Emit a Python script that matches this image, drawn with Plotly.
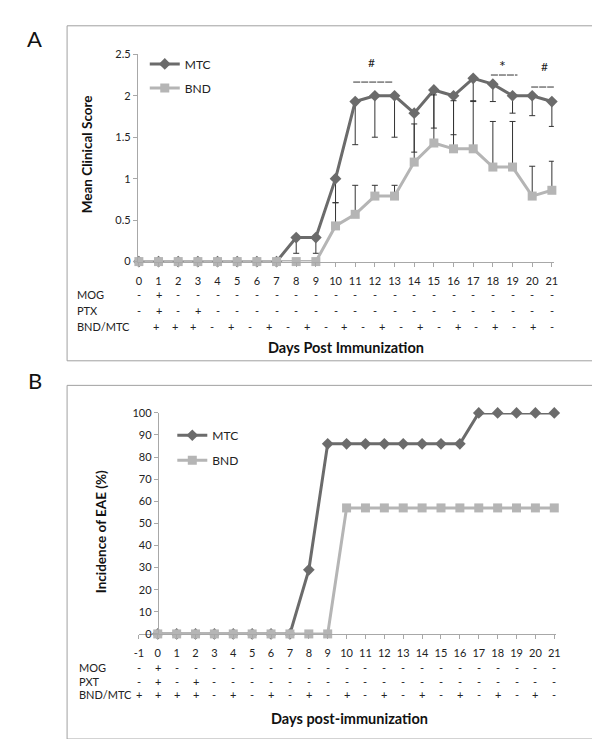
import plotly.graph_objects as go

W, H = 600, 739
FONT = "Lato"
MTC_COLOR = "#6b6b6b"
BND_COLOR = "#b5b5b5"
AXIS_COLOR = "#a8a8a8"
ERR_COLOR = "#333333"

# ---------------- Panel A data ----------------
days_a = [0, 1, 2, 3, 4, 5, 6, 7, 8, 9, 10, 11, 12, 13, 14, 15, 16, 17, 18, 19, 20, 21]
mtc_score = [0, 0, 0, 0, 0, 0, 0, 0, 0.29, 0.29, 1.0, 1.93, 2.0, 2.0, 1.79, 2.07, 2.0, 2.21, 2.14, 2.0, 2.0, 1.93]
bnd_score = [0, 0, 0, 0, 0, 0, 0, 0, 0, 0, 0.43, 0.57, 0.79, 0.79, 1.2, 1.43, 1.36, 1.36, 1.14, 1.14, 0.79, 0.86]
mtc_err_minus = [0, 0, 0, 0, 0, 0, 0, 0, 0.19, 0.19, 0.29, 0.52, 0.5, 0.5, 0.47, 0.46, 0.47, 0.28, 0.21, 0.21, 0.24, 0.30]
bnd_err_plus = [0, 0, 0, 0, 0, 0, 0, 0, 0, 0, 0.28, 0.35, 0.13, 0.13, 0.46, 0.58, 0.58, 0.58, 0.55, 0.55, 0.36, 0.35]
zeros_a = [0] * len(days_a)
a_ticks = [0, 0.5, 1, 1.5, 2, 2.5]
a_tick_text = ["0", "0.5", "1", "1.5", "2", "2.5"]

# table rows under panel A
a_mog = "-+--------------------"
a_ptx = "-+-+------------------"
a_bndmtc = "++++-+-+-+-+-+-+-+-+-+-"

# significance marks (text, x-centre in days, y value, line start, line end, line y)
sig_text = ["#", "*", "#"]
sig_size = [12, 16, 12]
sig_x = [11.85, 18.5, 20.6]
sig_y = [2.40, 2.37, 2.35]
sig_x0 = [10.9, 17.9, 19.95]
sig_x1 = [12.9, 19.25, 21.3]
sig_ly = [2.165, 2.25, 2.105]

# ---------------- Panel B data ----------------
days_b = [0, 1, 2, 3, 4, 5, 6, 7, 8, 9, 10, 11, 12, 13, 14, 15, 16, 17, 18, 19, 20, 21]
mtc_inc = [0, 0, 0, 0, 0, 0, 0, 0, 29, 86, 86, 86, 86, 86, 86, 86, 86, 100, 100, 100, 100, 100]
bnd_inc = [0, 0, 0, 0, 0, 0, 0, 0, 0, 0, 57, 57, 57, 57, 57, 57, 57, 57, 57, 57, 57, 57]
b_tick_days = [-1, 0, 1, 2, 3, 4, 5, 6, 7, 8, 9, 10, 11, 12, 13, 14, 15, 16, 17, 18, 19, 20, 21]
b_ticks = [0, 10, 20, 30, 40, 50, 60, 70, 80, 90, 100]

b_mog = "-+---------------------"
b_pxt = "-+-+-------------------"
b_bndmtc = "++++-+-+-+-+-+-+-+-+-+-"


def px(x):
    return x / W


def py(y):
    return 1 - y / H


fig = go.Figure()

# ---- Panel A traces
fig.add_trace(go.Scatter(
    x=days_a, y=mtc_score, mode="lines+markers", name="MTC",
    line=dict(color=MTC_COLOR, width=3),
    marker=dict(symbol="diamond", size=9, color=MTC_COLOR),
    error_y=dict(type="data", symmetric=False, array=zeros_a, arrayminus=mtc_err_minus,
                 color=ERR_COLOR, thickness=1, width=3),
    xaxis="x", yaxis="y", legend="legend", legendgroup="a1", cliponaxis=False))
fig.add_trace(go.Scatter(
    x=days_a, y=bnd_score, mode="lines+markers", name="BND",
    line=dict(color=BND_COLOR, width=3),
    marker=dict(symbol="square", size=9, color=BND_COLOR),
    error_y=dict(type="data", symmetric=False, array=bnd_err_plus, arrayminus=zeros_a,
                 color=ERR_COLOR, thickness=1, width=3),
    xaxis="x", yaxis="y", legend="legend", legendgroup="a2", cliponaxis=False))

# ---- Panel B traces
fig.add_trace(go.Scatter(
    x=days_b, y=mtc_inc, mode="lines+markers", name="MTC",
    line=dict(color=MTC_COLOR, width=3),
    marker=dict(symbol="diamond", size=9, color=MTC_COLOR),
    xaxis="x2", yaxis="y2", legend="legend2", legendgroup="b1", cliponaxis=False))
fig.add_trace(go.Scatter(
    x=days_b, y=bnd_inc, mode="lines+markers", name="BND",
    line=dict(color=BND_COLOR, width=3),
    marker=dict(symbol="square", size=9, color=BND_COLOR),
    xaxis="x2", yaxis="y2", legend="legend2", legendgroup="b2", cliponaxis=False))

tickfont = dict(family=FONT, size=11, color="#222222")

# Panel A geometry (pixels)
ax0, ax1 = 127, 550
a_range = [-0.05, 21.1]
ay_top, ay_bot = 40, 251
# Panel B geometry
bx0, bx1 = 128, 552
b_range = [-1, 21.08]
b_y0_px = bx0 + (0 - b_range[0]) * (bx1 - bx0) / (b_range[1] - b_range[0])
by_top, by_bot = 405, 630

axis_common = dict(showgrid=False, zeroline=False, showline=True, linecolor=AXIS_COLOR,
                   linewidth=1, ticks="outside", ticklen=4, tickcolor=AXIS_COLOR,
                   tickfont=tickfont)

fig.update_layout(
    width=W, height=H, margin=dict(l=0, r=0, t=0, b=0),
    paper_bgcolor="white", plot_bgcolor="white",
    font=dict(family=FONT, color="#222222"),
    xaxis=dict(domain=[px(ax0), px(ax1)], range=a_range, anchor="y",
               tickvals=days_a, ticktext=[str(d) for d in days_a],
               ticklabelstandoff=5, **axis_common),
    yaxis=dict(domain=[py(ay_bot), py(ay_top)], range=[0, 2.5], anchor="x",
               tickvals=a_ticks, ticktext=a_tick_text, **axis_common),
    xaxis2=dict(domain=[px(bx0), px(bx1)], range=b_range, anchor="y2",
                tickvals=b_tick_days, ticktext=[str(d) for d in b_tick_days],
                ticklabelstandoff=5, **axis_common),
    yaxis2=dict(domain=[py(by_bot), py(by_top)], range=[0, 100], anchor="free",
                position=px(b_y0_px), tickvals=b_ticks, **axis_common),
    legend=dict(x=px(134), y=py(35), xanchor="left", yanchor="top",
                font=dict(family=FONT, size=12, color="#222222"),
                bgcolor="rgba(0,0,0,0)", itemwidth=30, tracegroupgap=5),
    legend2=dict(x=px(162), y=py(413), xanchor="left", yanchor="top",
                 font=dict(family=FONT, size=12, color="#222222"),
                 bgcolor="rgba(0,0,0,0)", itemwidth=30, tracegroupgap=6),
    showlegend=True,
)

annotations = []
shapes = []


def note(text, x, y, xref="paper", yref="paper", size=11, xanchor="center", angle=0,
         color="#222222"):
    annotations.append(dict(text=text, x=x, y=y, xref=xref, yref=yref, showarrow=False,
                            xanchor=xanchor, yanchor="middle", textangle=angle,
                            borderpad=0, font=dict(family=FONT, size=size, color=color)))


# frames around panels
shapes.append(dict(type="rect", xref="paper", yref="paper", x0=px(55), x1=px(591),
                   y0=py(352), y1=py(11), line=dict(color="#a0a0a0", width=1)))
shapes.append(dict(type="rect", xref="paper", yref="paper", x0=px(55), x1=px(591),
                   y0=py(737), y1=py(377), line=dict(color="#a0a0a0", width=1)))

# panel letters
note("A", px(22), py(24), size=22, color="#111111")
note("B", px(22), py(372), size=22, color="#111111")

# axis titles
note("<b>Mean Clinical Score</b>", px(75), py(142), size=13.5, angle=-90, color="#111111")
note("<b>Incidence of EAE (%)</b>", px(89), py(526), size=13.5, angle=-90, color="#111111")
note("<b>Days Post Immunization</b>", px(339), py(338), size=14.5, color="#111111")
note("<b>Days post-immunization</b>", px(342), py(716), size=14.5, color="#111111")


def add_row(label, symbols, xs, xref, ypix, label_x):
    note(label, px(label_x), py(ypix), size=11, xanchor="left")
    for s, xv in zip(symbols, xs):
        note(s, xv, py(ypix), xref=xref, size=11)


n_a = len(a_bndmtc)
a_bnd_x = [-0.1 + i * (21.1 / (n_a - 1)) for i in range(n_a)]
add_row("MOG", a_mog, days_a, "x", 285, 64)
add_row("PTX", a_ptx, days_a, "x", 301, 64)
add_row("BND/MTC", a_bndmtc, a_bnd_x, "x", 317, 64)

add_row("MOG", b_mog, b_tick_days, "x2", 664, 66)
add_row("PXT", b_pxt, b_tick_days, "x2", 678, 66)
add_row("BND/MTC", b_bndmtc, b_tick_days, "x2", 692, 66)

# significance marks
for t, sz, xv, yv, x0, x1, ly in zip(sig_text, sig_size, sig_x, sig_y, sig_x0, sig_x1, sig_ly):
    note(t, xv, yv, xref="x", yref="y", size=sz)
    shapes.append(dict(type="line", xref="x", yref="y", x0=x0, x1=x1, y0=ly, y1=ly,
                       line=dict(color="#333333", width=1, dash="7px,1px")))

fig.update_layout(annotations=annotations, shapes=shapes)

fig.write_html("out.html")
